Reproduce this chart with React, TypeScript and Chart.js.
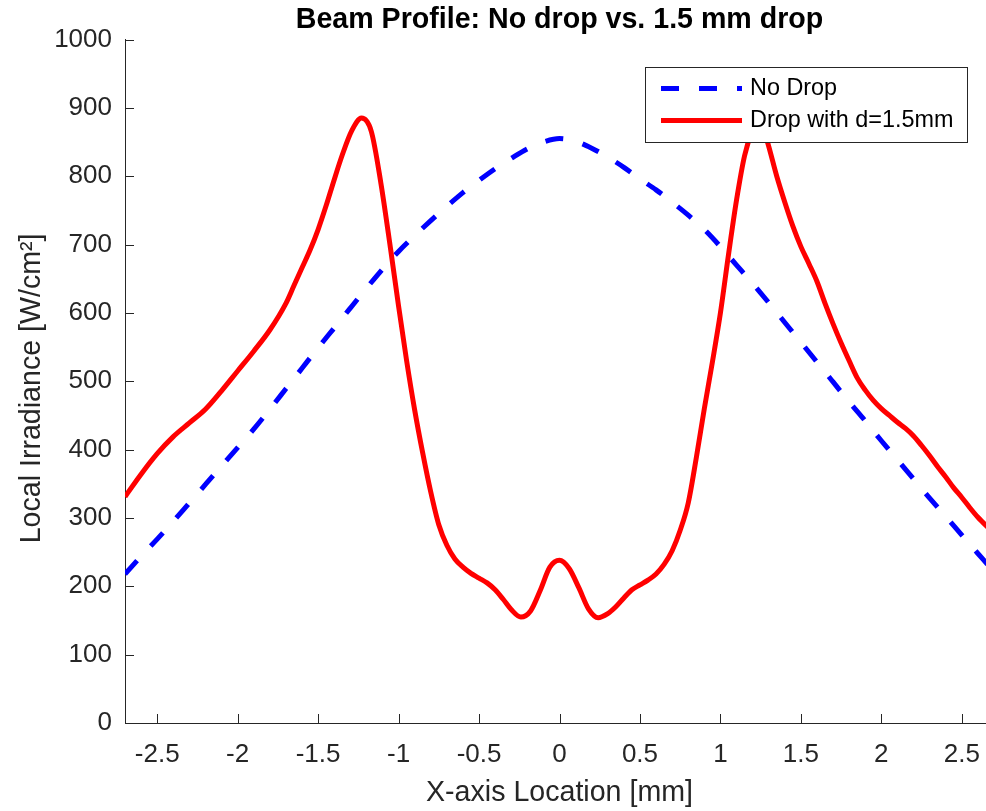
import React, { useEffect, useRef } from 'react';
import { Chart, registerables } from 'chart.js';

Chart.register(...registerables);

const FONT = "'Liberation Sans', Arial, Helvetica, sans-serif";

const TITLE = 'Beam Profile: No drop vs. 1.5 mm drop';
const X_LABEL = 'X-axis Location [mm]';
const Y_LABEL = 'Local Irradiance [W/cm²]\u2002';
const SERIES_NAMES = ['No Drop', 'Drop with d=1.5mm'];

const X_TICKS = [-2.5, -2, -1.5, -1, -0.5, 0, 0.5, 1, 1.5, 2, 2.5];
const Y_TICKS = [0, 100, 200, 300, 400, 500, 600, 700, 800, 900, 1000];

const noDropX = [
  -2.7, -2.6, -2.5, -2.4, -2.3, -2.2, -2.1, -2.0, -1.9, -1.8, -1.7, -1.6, -1.5, -1.4,
  -1.3, -1.2, -1.1, -1.0, -0.9, -0.8, -0.7, -0.6, -0.5, -0.4, -0.3, -0.2, -0.1, 0.0,
  0.1, 0.2, 0.3, 0.4, 0.5, 0.6, 0.7, 0.8, 0.9, 1.0, 1.1, 1.2, 1.3, 1.4, 1.5, 1.6,
  1.7, 1.8, 1.9, 2.0, 2.1, 2.2, 2.3, 2.4, 2.5, 2.6, 2.7,
];
const noDropY = [
  218, 244, 269, 295, 322, 349, 376, 403, 430, 459, 489, 519, 549, 578,
  607, 636, 664, 690, 713, 735, 756, 776, 794, 811, 826, 840, 850, 855,
  851, 841, 828, 813, 796, 780, 762, 743, 722, 697, 670, 643, 615, 586, 557, 528,
  499, 470, 442, 413, 385, 357, 329, 302, 275, 248, 221,
];

const dropX = [
  -2.7, -2.6, -2.5, -2.4, -2.3, -2.2, -2.1, -2.0, -1.9, -1.8, -1.7, -1.65, -1.6, -1.55,
  -1.5, -1.45, -1.4, -1.35, -1.29, -1.23, -1.17, -1.11, -1.05, -1.0, -0.95, -0.9, -0.85,
  -0.8, -0.75, -0.7, -0.65, -0.6, -0.55, -0.5, -0.45, -0.4, -0.35, -0.3, -0.24, -0.18,
  -0.12, -0.06, 0.0, 0.06, 0.12, 0.18, 0.24, 0.3, 0.35, 0.4, 0.45, 0.5, 0.55, 0.6, 0.65,
  0.7, 0.75, 0.8, 0.85, 0.9, 0.95, 1.0, 1.05, 1.1, 1.15, 1.2, 1.24, 1.29, 1.35, 1.4,
  1.45, 1.5, 1.55, 1.6, 1.65, 1.7, 1.75, 1.8, 1.85, 1.9, 1.95, 2.0, 2.05, 2.1, 2.15,
  2.2, 2.25, 2.3, 2.35, 2.4, 2.45, 2.5, 2.55, 2.6, 2.65, 2.7,
];
const dropY = [
  331, 364, 394, 419, 439, 459, 486, 515, 544, 575, 614, 640, 666, 692,
  722, 757, 795, 831, 867, 885, 866, 790, 694, 610, 530, 458, 395,
  338, 290, 260, 240, 228, 219, 212, 205, 195, 181, 166, 155, 164,
  194, 228, 238, 226, 198, 167, 154, 160, 170, 183, 195, 202, 209, 218, 232,
  252, 282, 322, 388, 460, 528, 600, 685, 765, 830, 868, 885, 852, 800, 762,
  727, 697, 672, 646, 614, 584, 556, 530, 505, 487, 472, 460, 450, 440, 431,
  420, 406, 391, 375, 360, 344, 330, 315, 301, 289, 278,
];

const AXIS_COLOR = '#262626';

const inwardTicks = {
  id: 'inwardTicks',
  afterDatasetsDraw(chart: any) {
    const { ctx, chartArea, scales } = chart;
    const len = 9;
    ctx.save();
    ctx.strokeStyle = AXIS_COLOR;
    ctx.lineWidth = 1;
    ctx.beginPath();
    for (const v of X_TICKS) {
      const px = Math.round(scales.x.getPixelForValue(v)) + 0.5;
      ctx.moveTo(px, chartArea.bottom);
      ctx.lineTo(px, chartArea.bottom - len);
    }
    for (const v of Y_TICKS) {
      const py = Math.round(scales.y.getPixelForValue(v)) + 0.5;
      ctx.moveTo(chartArea.left, py);
      ctx.lineTo(chartArea.left + len, py);
    }
    ctx.stroke();
    ctx.restore();
  },
};

const boxLegend = {
  id: 'boxLegend',
  afterDraw(chart: any) {
    const { ctx, chartArea } = chart;
    const right = chartArea.right - 27;
    const top = chartArea.top + 27.5;
    const w = 322;
    const h = 75;
    const left = right - w;
    ctx.save();
    ctx.fillStyle = '#ffffff';
    ctx.fillRect(left, top, w, h);
    ctx.strokeStyle = AXIS_COLOR;
    ctx.lineWidth = 1;
    ctx.strokeRect(Math.round(left) + 0.5, Math.round(top) + 0.5, w, h);
    const rows = [top + 21.5, top + 53.5];
    chart.data.datasets.forEach((ds: any, i: number) => {
      const y = rows[i];
      ctx.beginPath();
      ctx.strokeStyle = ds.borderColor;
      ctx.lineWidth = ds.borderWidth;
      ctx.lineCap = 'butt';
      ctx.setLineDash(ds.borderDash || []);
      ctx.moveTo(left + 16, y);
      ctx.lineTo(left + 97, y);
      ctx.stroke();
      ctx.setLineDash([]);
      ctx.fillStyle = '#000000';
      ctx.font = `23.4px ${FONT}`;
      ctx.textBaseline = 'middle';
      ctx.textAlign = 'left';
      ctx.fillText(ds.label, left + 105, y);
    });
    ctx.restore();
  },
};

export default function App() {
  const canvasRef = useRef<HTMLCanvasElement | null>(null);

  useEffect(() => {
    const canvas = canvasRef.current;
    if (!canvas) return;
    const chart = new Chart(canvas, {
      type: 'line',
      data: {
        datasets: [
          {
            label: SERIES_NAMES[0],
            data: noDropX.map((x, i) => ({ x, y: noDropY[i] })),
            borderColor: '#0000ff',
            borderWidth: 5,
            borderDash: [18, 20],
            borderCapStyle: 'butt',
            cubicInterpolationMode: 'monotone',
            pointRadius: 0,
            fill: false,
            order: 1,
          },
          {
            label: SERIES_NAMES[1],
            data: dropX.map((x, i) => ({ x, y: dropY[i] })),
            borderColor: '#ff0000',
            borderWidth: 5,
            borderCapStyle: 'butt',
            cubicInterpolationMode: 'monotone',
            pointRadius: 0,
            fill: false,
            order: 0,
          },
        ],
      },
      options: {
        animation: false,
        responsive: false,
        devicePixelRatio: 1,
        layout: { padding: { left: 0, right: 16, top: 0, bottom: 0 } },
        plugins: {
          legend: { display: false },
          tooltip: { enabled: false },
          title: {
            display: true,
            text: TITLE,
            fullSize: false,
            color: '#000000',
            font: { family: FONT, size: 28.6, weight: 'bold', lineHeight: 1.2 },
            padding: { top: 3, bottom: 2.2 },
          },
        },
        scales: {
          x: {
            type: 'linear',
            min: -2.7,
            max: 2.7,
            afterBuildTicks: (s: any) => {
              s.ticks = X_TICKS.map((v) => ({ value: v }));
            },
            afterFit: (s: any) => {
              s.height = 88;
            },
            grid: { display: false, drawTicks: false },
            border: { display: true, color: AXIS_COLOR, width: 1 },
            ticks: {
              color: AXIS_COLOR,
              font: { family: FONT, size: 26, lineHeight: 1.2 },
              padding: 16,
              autoSkip: false,
              maxRotation: 0,
              callback: (v: any) => String(v),
            },
            title: {
              display: true,
              text: X_LABEL,
              color: AXIS_COLOR,
              font: { family: FONT, size: 28.6, lineHeight: 1.2 },
              padding: { top: 0, bottom: 0.8 },
            },
          },
          y: {
            type: 'linear',
            min: 0,
            max: 1000,
            afterBuildTicks: (s: any) => {
              s.ticks = Y_TICKS.map((v) => ({ value: v }));
            },
            afterFit: (s: any) => {
              s.width = 125;
            },
            grid: { display: false, drawTicks: false },
            border: { display: true, color: AXIS_COLOR, width: 1 },
            ticks: {
              color: AXIS_COLOR,
              font: { family: FONT, size: 26, lineHeight: 1.2 },
              padding: 13,
              autoSkip: false,
              callback: (v: any) => String(v),
            },
            title: {
              display: true,
              text: Y_LABEL,
              color: AXIS_COLOR,
              font: { family: FONT, size: 28.6, lineHeight: 1.2 },
              padding: { top: 14.5, bottom: 0 },
            },
          },
        },
      } as any,
      plugins: [inwardTicks, boxLegend],
    });
    return () => chart.destroy();
  }, []);

  return (
    <div
      style={{
        position: 'fixed',
        left: 0,
        top: 0,
        width: 986,
        height: 811,
        overflow: 'hidden',
        background: '#ffffff',
      }}
    >
      <canvas
        ref={canvasRef}
        width={1010}
        height={811}
        style={{ display: 'block', width: 1010, height: 811 }}
      />
    </div>
  );
}
